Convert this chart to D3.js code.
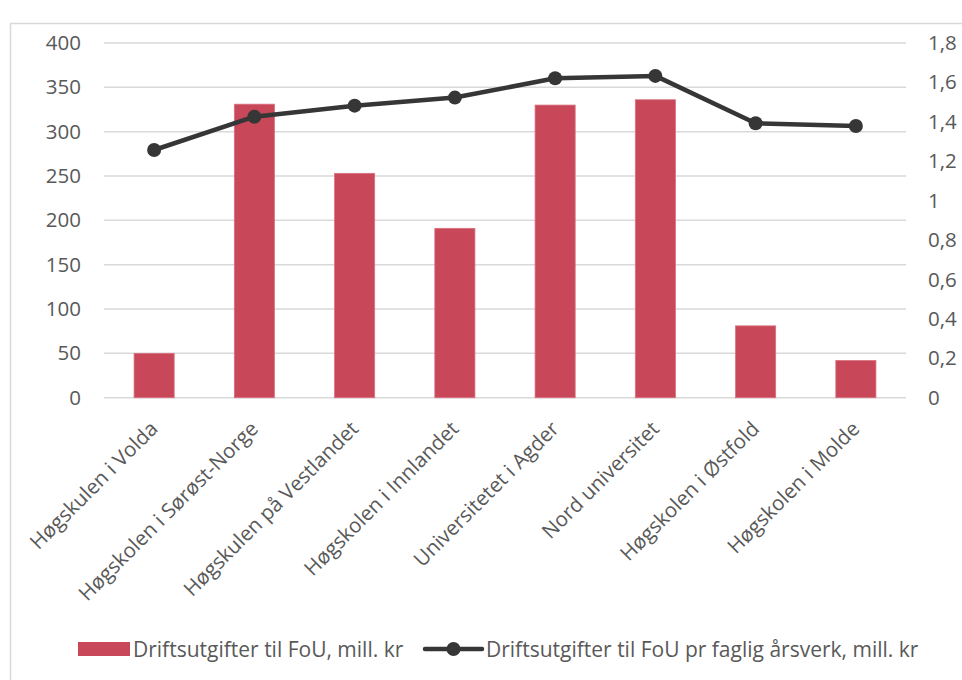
<!DOCTYPE html>
<html><head><meta charset="utf-8">
<script src="https://cdn.jsdelivr.net/npm/d3@7"></script>
<style>body{margin:0;background:#fff}svg{display:block}text{font-family:"Open Sans",sans-serif;fill:#595959}</style>
</head><body>
<svg id="c" width="962" height="680"></svg>
<script>
const categories = ["Høgskulen i Volda","Høgskolen i Sørøst-Norge","Høgskulen på Vestlandet","Høgskolen i Innlandet","Universitetet i Agder","Nord universitet","Høgskolen i Østfold","Høgskolen i Molde"];
const barValues = [50, 331, 253, 191, 330, 336, 81, 42];
const lineValues = [1.257, 1.426, 1.482, 1.523, 1.621, 1.633, 1.393, 1.379];
const leftTicks = [0,50,100,150,200,250,300,350,400];
const rightTicks = [0,0.2,0.4,0.6,0.8,1,1.2,1.4,1.6,1.8];
const seriesNames = ["Driftsutgifter til FoU, mill. kr","Driftsutgifter til FoU pr faglig årsverk, mill. kr"];

const svg = d3.select("#c");
const L=104, R=906, T=43, B=397.7;
const barColor="#C8485A", lineColor="#363636";

svg.append("rect").attr("x",10.5).attr("y",23.5).attr("width",1000).attr("height",700)
  .attr("fill","none").attr("stroke","#d9d9d9").attr("stroke-width",1.5);

const x = d3.scaleBand().domain(categories).range([L,R]).paddingInner(0.6).paddingOuter(0.3);
const yL = d3.scaleLinear().domain([0,400]).range([B,T]);
const yR = d3.scaleLinear().domain([0,1.8]).range([B,T]);

// gridlines
svg.append("g").selectAll("line").data(leftTicks).join("line")
  .attr("x1",L).attr("x2",R).attr("y1",d=>yL(d)).attr("y2",d=>yL(d))
  .attr("stroke","#d9d9d9").attr("stroke-width",1.5);

// left axis
const gl = svg.append("g").attr("transform",`translate(${L},0)`)
  .call(d3.axisLeft(yL).tickValues(leftTicks).tickSize(0).tickPadding(23).tickFormat(d=>String(d)));
gl.select(".domain").remove();
gl.selectAll("text").attr("font-size",20.5).attr("fill","#595959").style("font-family","'Open Sans',sans-serif");

// right axis
const gr = svg.append("g").attr("transform",`translate(${R},0)`)
  .call(d3.axisRight(yR).tickValues(rightTicks).tickSize(0).tickPadding(22)
    .tickFormat(d=>String(+d.toFixed(1)).replace(".",",")));
gr.select(".domain").remove();
gr.selectAll("text").attr("font-size",20.5).attr("fill","#595959").style("font-family","'Open Sans',sans-serif");

// bars
svg.append("g").selectAll("rect").data(categories).join("rect")
  .attr("x",d=>x(d)).attr("width",x.bandwidth())
  .attr("y",(d,i)=>yL(barValues[i])).attr("height",(d,i)=>B-yL(barValues[i]))
  .attr("fill",barColor).attr("stroke","#d9707e").attr("stroke-width",0.8);

// line
const cx = d=>x(d)+x.bandwidth()/2;
svg.append("path").datum(categories)
  .attr("d",d3.line().x(d=>cx(d)).y((d,i)=>yR(lineValues[i])))
  .attr("fill","none").attr("stroke",lineColor).attr("stroke-width",4.5).attr("stroke-linejoin","round");
svg.append("g").selectAll("circle").data(categories).join("circle")
  .attr("cx",d=>cx(d)).attr("cy",(d,i)=>yR(lineValues[i])).attr("r",7).attr("fill",lineColor);

// category labels
svg.append("g").selectAll("text").data(categories).join("text")
  .attr("transform",d=>`translate(${cx(d)+5},${430}) rotate(-45)`)
  .attr("text-anchor","end").attr("font-size",20.5).text(d=>d);

// legend
const ly = 649;
svg.append("rect").attr("x",78).attr("y",ly-7).attr("width",52).attr("height",14).attr("fill",barColor);
svg.append("text").attr("x",133).attr("y",ly).attr("dy","0.36em").attr("font-size",21).text(seriesNames[0]);
svg.append("line").attr("x1",425).attr("x2",482).attr("y1",ly).attr("y2",ly).attr("stroke",lineColor).attr("stroke-width",4.5).attr("stroke-linecap","round");
svg.append("circle").attr("cx",453.5).attr("cy",ly).attr("r",7).attr("fill",lineColor);
svg.append("text").attr("x",486).attr("y",ly).attr("dy","0.36em").attr("font-size",21).text(seriesNames[1]);
</script>
</body></html>
